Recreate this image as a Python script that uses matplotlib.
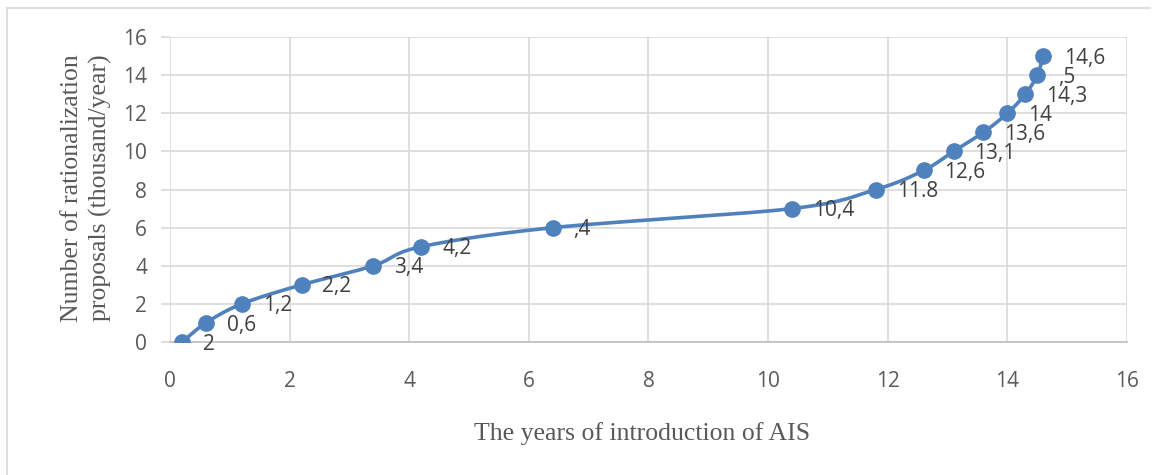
import numpy as np
import matplotlib.pyplot as plt
from matplotlib.lines import Line2D

# years since AIS introduction and proposals (thousand/year)
years = [0.2, 0.6, 1.2, 2.2, 3.4, 4.2, 6.4, 10.4, 11.8, 12.6, 13.1, 13.6, 14.0, 14.3, 14.5, 14.6]
proposals = [0, 1, 2, 3, 4, 5, 6, 7, 8, 9, 10, 11, 12, 13, 14, 15]
point_labels = ['2', '0,6', '1,2', '2,2', '3,4', '4,2', ',4', '10,4', '11.8',
                '12,6', '13,1', '13,6', '14', '14,3', ',5', '14,6']

blue = '#4F81BD'
grey_text = '#595959'
grid_col = '#D9D9D9'


def smooth(x, y, n=30):
    # Catmull-Rom style smoothing, like office "smoothed line"
    x = np.asarray(x, float)
    y = np.asarray(y, float)
    px = np.concatenate([[2 * x[0] - x[1]], x, [2 * x[-1] - x[-2]]])
    py = np.concatenate([[2 * y[0] - y[1]], y, [2 * y[-1] - y[-2]]])
    xs, ys = [], []
    t = np.linspace(0, 1, n)
    for i in range(1, len(px) - 2):
        p0, p1, p2, p3 = [np.array([px[j], py[j]]) for j in range(i - 1, i + 3)]
        m1 = (p2 - p0) / 2 / 3
        m2 = (p3 - p1) / 2 / 3
        c1, c2 = p1 + m1, p2 - m2
        pts = ((1 - t) ** 3)[:, None] * p1 + (3 * (1 - t) ** 2 * t)[:, None] * c1 \
            + (3 * (1 - t) * t ** 2)[:, None] * c2 + (t ** 3)[:, None] * p2
        xs.append(pts[:, 0])
        ys.append(pts[:, 1])
    return np.concatenate(xs), np.concatenate(ys)


fig = plt.figure(figsize=(11.58, 4.75), dpi=100)
ax = fig.add_axes([0.1468, 0.28, 0.8264, 0.642])

sx, sy = smooth(years, proposals)
ax.plot(sx, sy, color=blue, linewidth=2.6, solid_capstyle='round', zorder=3)
ax.plot(years, proposals, linestyle='none', marker='o', markersize=11,
        color=blue, zorder=4)

for xv, yv, lab in zip(years, proposals, point_labels):
    ax.annotate(lab, (xv, yv), xytext=(15, -1.5), textcoords='offset points',
                ha='left', va='center', fontsize=15, color='#404040',
                family='Open Sans', zorder=5)

ax.set_xlim(0, 16)
ax.set_ylim(0, 16)
ax.set_xticks(range(0, 17, 2))
ax.set_yticks(range(0, 17, 2))
ax.grid(True, color=grid_col, linewidth=1.2)
ax.set_axisbelow(True)
for side in ['top', 'right', 'left']:
    ax.spines[side].set_visible(False)
ax.spines['bottom'].set_color('#BFBFBF')
ax.spines['bottom'].set_linewidth(1.2)
ax.tick_params(axis='x', length=0, pad=21, labelsize=15, labelcolor=grey_text)
ax.tick_params(axis='y', length=6.5, color=grid_col, width=1.2, pad=10,
               labelsize=15, labelcolor=grey_text)
for lab in ax.get_xticklabels() + ax.get_yticklabels():
    lab.set_family('Open Sans')

ax.set_xlabel('The years of introduction of AIS', family='Liberation Serif',
              fontsize=18.5, color=grey_text)
ax.set_ylabel('Number of rationalization\nproposals (thousand/year)',
              family='Liberation Serif', fontsize=18.5, color=grey_text,
              linespacing=1.3)
ax.xaxis.set_label_coords(0.493, -0.262)
ax.yaxis.set_label_coords(-0.061, 0.505)

# chart frame (top and left edges)
fig.add_artist(Line2D([7 / 1158, 7 / 1158], [0, 1 - 8 / 475],
                      transform=fig.transFigure, color='#D9D9D9', linewidth=1.2))
fig.add_artist(Line2D([7 / 1158, 1150 / 1158], [1 - 8 / 475, 1 - 8 / 475],
                      transform=fig.transFigure, color='#D9D9D9', linewidth=1.2))

fig.savefig('out.png', dpi=100, facecolor='white')
